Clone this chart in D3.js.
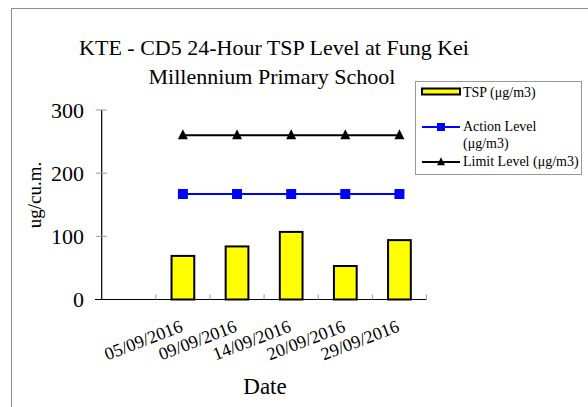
<!DOCTYPE html>
<html>
<head>
<meta charset="utf-8">
<script src="https://cdn.jsdelivr.net/npm/d3@7"></script>
<style>
  body { margin: 0; background: #fff; }
  text { font-family: "Liberation Serif", "Times New Roman", serif; fill: #000; }
</style>
</head>
<body>
<svg id="chart" width="588" height="407"></svg>
<script>
// first slot of the category axis is empty in the original sheet
const dates = ["", "05/09/2016", "09/09/2016", "14/09/2016", "20/09/2016", "29/09/2016"];
const tsp = [null, 69, 84, 107, 53, 94];
const actionLevel = [null, 167, 167, 167, 167, 167];
const limitLevel = [null, 260, 260, 260, 260, 260];
const yTicks = [0, 100, 200, 300];

const svg = d3.select("#chart");

// outer frame of the chart object
svg.append("rect")
    .attr("x", 11.5).attr("y", 8.5)
    .attr("width", 600).attr("height", 420)
    .attr("fill", "#fff")
    .attr("stroke", "#8c8c8c");

let x = d3.scaleBand()
    .domain(d3.range(dates.length))
    .range([101.7, 426.5]);

let y = d3.scaleLinear()
    .domain([0, 300])
    .range([299.5, 110]);

let bw = x.bandwidth();

// title
let title = svg.append("text")
    .attr("text-anchor", "middle")
    .style("font-size", "22px");
title.append("tspan").attr("x", 274).attr("y", 55).text("KTE - CD5 24-Hour TSP Level at Fung Kei");
title.append("tspan").attr("x", 272).attr("y", 84).text("Millennium Primary School");

// y axis
svg.append("line")
    .attr("x1", 101.7).attr("x2", 101.7)
    .attr("y1", y(300)).attr("y2", y(0))
    .attr("stroke", "#000").attr("stroke-width", 1.2);

svg.selectAll(".ytick")
    .data(yTicks)
    .enter().append("line")
    .attr("class", "ytick")
    .attr("x1", 96).attr("x2", 107)
    .attr("y1", d => y(d)).attr("y2", d => y(d))
    .attr("stroke", "#999");

svg.selectAll(".ylab")
    .data(yTicks)
    .enter().append("text")
    .attr("class", "ylab")
    .attr("x", 84)
    .attr("y", d => y(d))
    .attr("dy", "0.35em")
    .attr("text-anchor", "end")
    .style("font-size", "22px")
    .text(d => d);

svg.append("text")
    .attr("transform", "translate(41,195) rotate(-90)")
    .attr("text-anchor", "middle")
    .style("font-size", "19px")
    .text("ug/cu.m.");

// bars
svg.selectAll(".bar")
    .data(tsp.map((v, i) => ({v: v, i: i})).filter(d => d.v != null))
    .enter().append("rect")
    .attr("class", "bar")
    .attr("x", d => x(d.i) + bw / 2 - bw * 0.21)
    .attr("width", bw * 0.42)
    .attr("y", d => y(d.v))
    .attr("height", d => y(0) - y(d.v))
    .attr("fill", "#ffff00")
    .attr("stroke", "#000")
    .attr("stroke-width", 2);

// x axis
svg.append("line")
    .attr("x1", 95).attr("x2", 426.5)
    .attr("y1", y(0)).attr("y2", y(0))
    .attr("stroke", "#000").attr("stroke-width", 1.2);

svg.selectAll(".xtick")
    .data(d3.range(1, dates.length + 1))
    .enter().append("line")
    .attr("class", "xtick")
    .attr("x1", d => 101.7 + d * bw).attr("x2", d => 101.7 + d * bw)
    .attr("y1", y(0) - 5).attr("y2", y(0))
    .attr("stroke", "#999");

svg.selectAll(".xlab")
    .data(dates)
    .enter().append("text")
    .attr("class", "xlab")
    .attr("transform", (d, i) => "translate(" + (x(i) + bw / 2 + 1) + ",331) rotate(-21)")
    .attr("text-anchor", "end")
    .style("font-size", "18px")
    .text(d => d);

svg.append("text")
    .attr("x", 265).attr("y", 394)
    .attr("text-anchor", "middle")
    .style("font-size", "23px")
    .text("Date");

// lines
let line = d3.line()
    .defined(d => d.v != null)
    .x(d => x(d.i) + bw / 2)
    .y(d => y(d.v));

function series(values, color, shape, size) {
  let pts = values.map((v, i) => ({v: v, i: i}));
  svg.append("path")
      .datum(pts)
      .attr("d", line)
      .attr("fill", "none")
      .attr("stroke", color)
      .attr("stroke-width", 2);
  svg.selectAll(null)
      .data(pts.filter(d => d.v != null))
      .enter().append("path")
      .attr("transform", d => "translate(" + (x(d.i) + bw / 2) + "," + y(d.v) + ")")
      .attr("d", marker(shape, size))
      .attr("fill", color);
}

function marker(shape, s) {
  if (shape == "square") return "M" + (-s / 2) + "," + (-s / 2) + "h" + s + "v" + s + "h" + (-s) + "Z";
  return "M0," + (-s * 0.6) + "L" + (s / 2) + "," + (s * 0.4) + "L" + (-s / 2) + "," + (s * 0.4) + "Z";
}

series(actionLevel, "#0000ff", "square", 10);
series(limitLevel, "#000000", "triangle", 10);

// legend
let lg = svg.append("g");
lg.append("rect")
    .attr("x", 415.5).attr("y", 81.5)
    .attr("width", 166).attr("height", 93)
    .attr("fill", "#fff")
    .attr("stroke", "#999");

lg.append("rect")
    .attr("x", 422).attr("y", 88.5)
    .attr("width", 38).attr("height", 6)
    .attr("fill", "#ffff00")
    .attr("stroke", "#000")
    .attr("stroke-width", 2);

lg.append("line")
    .attr("x1", 422).attr("x2", 460).attr("y1", 127).attr("y2", 127)
    .attr("stroke", "#0000ff").attr("stroke-width", 2);
lg.append("path")
    .attr("transform", "translate(441,127)")
    .attr("d", marker("square", 8))
    .attr("fill", "#0000ff");

lg.append("line")
    .attr("x1", 422).attr("x2", 460).attr("y1", 162).attr("y2", 162)
    .attr("stroke", "#000").attr("stroke-width", 2);
lg.append("path")
    .attr("transform", "translate(441,162)")
    .attr("d", marker("triangle", 8))
    .attr("fill", "#000");

const legendLines = [
  {t: "TSP (μg/m3)", y: 97},
  {t: "Action Level", y: 131},
  {t: "(μg/m3)", y: 148},
  {t: "Limit Level (μg/m3)", y: 166}
];
lg.selectAll(".lt")
    .data(legendLines)
    .enter().append("text")
    .attr("class", "lt")
    .attr("x", 463)
    .attr("y", d => d.y)
    .style("font-size", "14px")
    .text(d => d.t);
</script>
</body>
</html>
